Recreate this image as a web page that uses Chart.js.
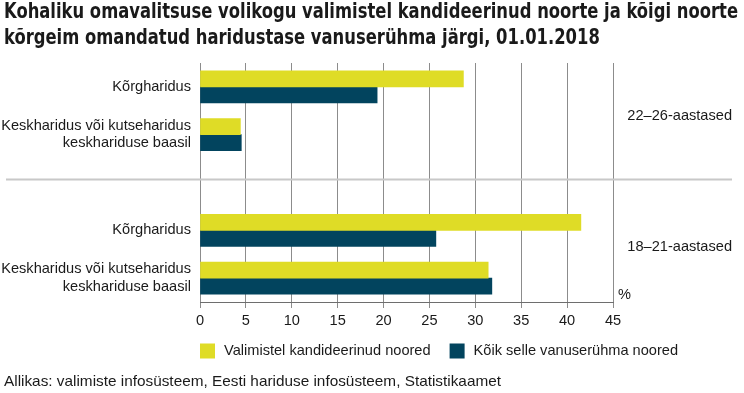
<!DOCTYPE html>
<html lang="et">
<head>
<meta charset="utf-8">
<title>Noorte haridustase</title>
<script src="https://cdn.jsdelivr.net/npm/chart.js@4"></script>
<style>
  html, body { margin: 0; padding: 0; background: #fff; }
  #wrap { position: relative; width: 744px; height: 393px; }
</style>
</head>
<body>
<div id="wrap"><canvas id="eduChart"></canvas></div>
<script>
// --- data ---
const titleLines = [
    'Kohaliku omavalitsuse volikogu valimistel kandideerinud noorte ja kõigi noorte',
    'kõrgeim omandatud haridustase vanuserühma järgi, 01.01.2018'
];
const sourceText = 'Allikas: valimiste infosüsteem, Eesti hariduse infosüsteem, Statistikaamet';
const categories = [
    'Kõrgharidus',
    ['Keskharidus või kutseharidus', 'keskhariduse baasil'],
    '',
    'Kõrgharidus',
    ['Keskharidus või kutseharidus', 'keskhariduse baasil']
];
const groupLabels = ['22–26-aastased', '18–21-aastased'];
const seriesNames = ['Valimistel kandideerinud noored', 'Kõik selle vanuserühma noored'];
const candidates = [28.7, 4.4, null, 41.5, 31.4];
const allYouth = [19.3, 4.5, null, 25.7, 31.8];
const xTicks = [0, 5, 10, 15, 20, 25, 30, 35, 40, 45];

const YELLOW = '#dfdc26';
const DARK = '#02445e';
const TEXT = '#1a1a1a';
const SANS = '"Liberation Sans", Arial, sans-serif';
const FS = 14.6;

// extra drawing: title, separator, group labels, %, legend, source
const decorPlugin = {
    id: 'decor',
    afterDraw(chart) {
        const { ctx, chartArea, scales } = chart;
        const y = scales.y;
        ctx.save();

        // separator between age groups
        const sepY = y.getPixelForValue(2) - 3;
        ctx.strokeStyle = '#c8c8c8';
        ctx.lineWidth = 2;
        ctx.beginPath();
        ctx.moveTo(6, sepY);
        ctx.lineTo(732, sepY);
        ctx.stroke();

        // group labels
        ctx.fillStyle = TEXT;
        ctx.font = FS + 'px ' + SANS;
        ctx.textAlign = 'right';
        ctx.textBaseline = 'middle';
        ctx.fillText(groupLabels[0], 732, (y.getPixelForValue(0) + y.getPixelForValue(1)) / 2 + 5);
        ctx.fillText(groupLabels[1], 732, (y.getPixelForValue(3) + y.getPixelForValue(4)) / 2 - 7);

        // unit
        ctx.textAlign = 'left';
        ctx.fillText('%', chartArea.right + 5, chartArea.bottom - 7);

        // legend
        const colors = [YELLOW, DARK];
        let lx = chartArea.left;
        const ly = 351;
        seriesNames.forEach((name, i) => {
            ctx.fillStyle = colors[i];
            ctx.fillRect(lx, ly - 7.5, 15, 15);
            ctx.fillStyle = TEXT;
            ctx.fillText(name, lx + 24, ly);
            lx += 24 + ctx.measureText(name).width + 19;
        });

        // title, stretched to the reference width
        ctx.font = 'bold 21px "Liberation Sans Narrow", "DejaVu Sans Condensed", sans-serif';
        const tw = ctx.measureText(titleLines[0]).width;
        ctx.save();
        ctx.translate(4, 0);
        ctx.scale(734 / tw, 1);
        ctx.fillText(titleLines[0], 0, 13);
        ctx.fillText(titleLines[1], 0, 39);
        ctx.restore();

        // source
        ctx.font = '15px ' + SANS;
        const sw = ctx.measureText(sourceText).width;
        ctx.save();
        ctx.translate(4, 0);
        ctx.scale(497 / sw, 1);
        ctx.fillText(sourceText, 0, 382);
        ctx.restore();

        ctx.restore();
    }
};

new Chart(document.getElementById('eduChart'), {
    type: 'bar',
    data: {
        labels: categories,
        datasets: [
            { label: seriesNames[0], data: candidates, backgroundColor: YELLOW, barThickness: 16 },
            { label: seriesNames[1], data: allYouth, backgroundColor: DARK, barThickness: 16 }
        ]
    },
    options: {
        indexAxis: 'y',
        responsive: true, maintainAspectRatio: false,
        animation: false,
        layout: { padding: { top: 63, right: 131, bottom: 61, left: 0 } },
        plugins: { legend: { display: false }, tooltip: { enabled: false }, title: { display: false } },
        scales: {
            x: {
                min: 0, max: 45,
                afterBuildTicks: (s) => { s.ticks = xTicks.map(v => ({ value: v })); },
                afterFit: (s) => { s.height = 30; },
                grid: { color: '#8c8c8c', lineWidth: 1, tickLength: 6 },
                border: { color: '#6e6e6e', width: 1 },
                ticks: { color: TEXT, font: { family: SANS, size: FS }, padding: 4 }
            },
            y: {
                afterFit: (s) => { s.width = 200; },
                grid: { display: false, drawTicks: false },
                border: { display: false },
                ticks: { color: TEXT, font: { family: SANS, size: FS }, padding: 9, autoSkip: false }
            }
        }
    },
    plugins: [decorPlugin]
});
</script>
</body>
</html>
